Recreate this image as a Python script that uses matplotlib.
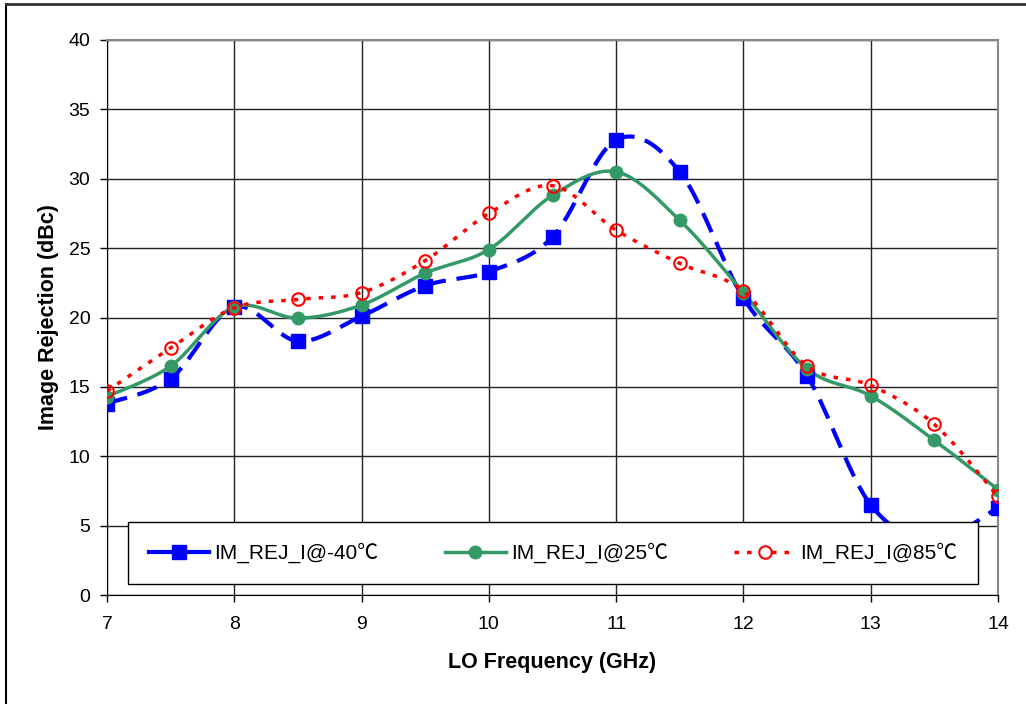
import numpy as np
import matplotlib
matplotlib.use("Agg")
import matplotlib.pyplot as plt
from matplotlib.lines import Line2D

# LO frequency (GHz)
freq = [7, 7.5, 8, 8.5, 9, 9.5, 10, 10.5, 11, 11.5, 12, 12.5, 13, 13.5, 14]
# image rejection (dBc) per temperature
rej_m40 = [13.8, 15.6, 20.75, 18.3, 20.1, 22.3, 23.3, 25.8, 32.8, 30.5, 21.4, 15.8, 6.5, 4.0, 6.3]
rej_25 = [14.3, 16.5, 20.75, 19.95, 20.9, 23.2, 24.9, 28.8, 30.5, 27.0, 21.8, 16.3, 14.35, 11.15, 7.6]
rej_85 = [14.7, 17.8, 20.7, 21.3, 21.8, 24.1, 27.5, 29.5, 26.3, 23.9, 21.9, 16.5, 15.1, 12.3, 7.1]

labels = ["IM_REJ_I@-40\u2103", "IM_REJ_I@25\u2103", "IM_REJ_I@85\u2103"]

plt.rcParams['font.family'] = ['Liberation Sans', 'Noto Sans CJK SC', 'DejaVu Sans']


def smooth(x, y, n=40):
    # Excel-style smoothed line (Catmull-Rom / Bezier)
    x = np.asarray(x, float)
    y = np.asarray(y, float)
    px = np.concatenate([[x[0]], x, [x[-1]]])
    py = np.concatenate([[y[0]], y, [y[-1]]])
    xs, ys = [], []
    t = np.linspace(0, 1, n)
    for i in range(1, len(px) - 2):
        p0 = np.array([px[i], py[i]])
        p3 = np.array([px[i + 1], py[i + 1]])
        c1 = p0 + (np.array([px[i + 1], py[i + 1]]) - np.array([px[i - 1], py[i - 1]])) / 6
        c2 = p3 - (np.array([px[i + 2], py[i + 2]]) - np.array([px[i], py[i]])) / 6
        b = ((1 - t) ** 3)[:, None] * p0 + (3 * (1 - t) ** 2 * t)[:, None] * c1 \
            + (3 * (1 - t) * t ** 2)[:, None] * c2 + (t ** 3)[:, None] * p3
        xs.extend(b[:, 0])
        ys.extend(b[:, 1])
    return np.array(xs), np.array(ys)


fig = plt.figure(figsize=(10.26, 7.04), dpi=100)
ax = fig.add_axes([107 / 1026, 1 - 595 / 704, 891 / 1026, 555 / 704])

blue = '#0000FF'
green = '#339966'
red = '#FF0000'

sx, sy = smooth(freq, rej_m40)
ax.plot(sx, sy, color=blue, lw=3, dashes=(5, 2.6), zorder=3)
ax.plot(freq, rej_m40, ls='none', marker='s', ms=10, color=blue, zorder=4)

sx, sy = smooth(freq, rej_25)
ax.plot(sx, sy, color=green, lw=2.5, zorder=3)
ax.plot(freq, rej_25, ls='none', marker='o', ms=9, color=green, zorder=4)

sx, sy = smooth(freq, rej_85)
ax.plot(sx, sy, color=red, lw=2.5, dashes=(1.3, 2.3), zorder=5)
ax.plot(freq, rej_85, ls='none', marker='o', ms=9, mfc='none', mec=red, mew=1.5, zorder=6)

ax.set_xlim(7, 14)
ax.set_ylim(0, 40)
ax.set_xticks(np.arange(7, 15, 1))
ax.set_yticks(np.arange(0, 41, 5))
ax.grid(True, color='#222222', lw=1)
ax.set_axisbelow(True)
ax.tick_params(labelsize=14, direction='out', length=5, width=1)
ax.tick_params(axis='x', pad=10)
ax.tick_params(axis='y', pad=7)
for s in ['top', 'right']:
    ax.spines[s].set_color('#888888')
    ax.spines[s].set_linewidth(1.5)
for s in ['left', 'bottom']:
    ax.spines[s].set_color('black')

ax.set_xlabel('LO Frequency (GHz)', fontsize=15.5, fontweight='bold', labelpad=14)
ax.set_ylabel('Image Rejection (dBc)', fontsize=15.5, fontweight='bold', labelpad=7)

handles = [
    Line2D([], [], color=blue, lw=3, marker='s', ms=10),
    Line2D([], [], color=green, lw=2.5, marker='o', ms=9),
    Line2D([], [], color=red, lw=2.5, dashes=(1.3, 2.3), marker='o', ms=9, mfc='white', mec=red, mew=1.5),
]
leg = ax.legend(handles, labels, ncol=3, mode='expand',
                bbox_to_anchor=(0.0236, 0.0198, 0.954, 0.117), loc='lower left',
                fontsize=15, frameon=True, fancybox=False, framealpha=1, borderaxespad=0,
                handlelength=2.9, handletextpad=0.25, borderpad=1.0)
leg.get_frame().set_edgecolor('black')
leg.get_frame().set_linewidth(1)
leg.set_zorder(10)

# outer chart frame
fig.add_artist(Line2D([6 / 1026, 6 / 1026], [0, 1 - 4 / 704], transform=fig.transFigure, color='black', lw=1.5))
fig.add_artist(Line2D([6 / 1026, 1], [1 - 4 / 704, 1 - 4 / 704], transform=fig.transFigure, color='#333333', lw=2))

fig.savefig('out.png', dpi=100)
